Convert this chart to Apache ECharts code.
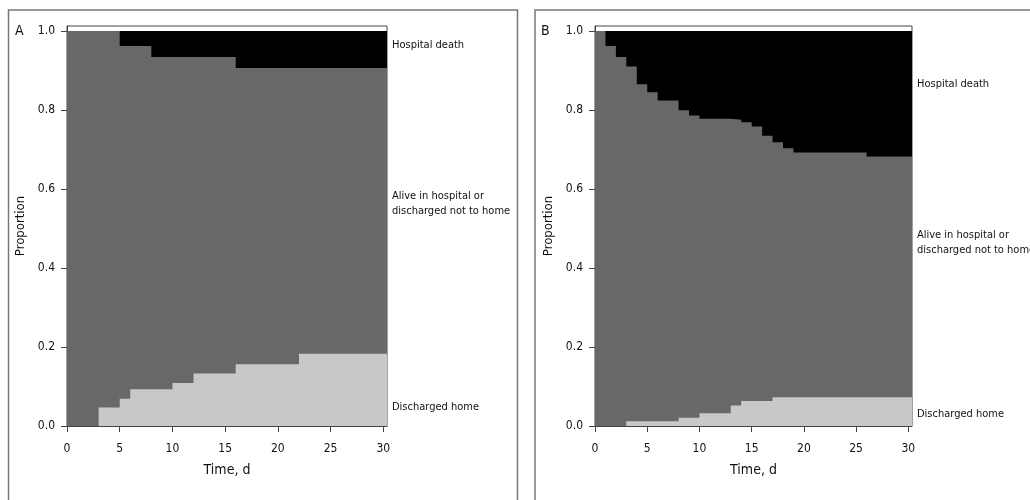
<!DOCTYPE html>
<html>
<head>
<meta charset="utf-8">
<title>Hospital outcome</title>
<script src="https://cdn.jsdelivr.net/npm/echarts@6/dist/echarts.min.js"></script>
<style>
  * { margin: 0; padding: 0 }
  html, body { width: 100%; height: 100%; background: #fff; }
  #main { width: 1030px; height: 500px; }
</style>
</head>
<body>
<div id="main"></div>
<script type="text/javascript">
// ---- data ----
var X_MAX = 30.35;
var Y_MAX = 1.0125;
var xTicks = [0, 5, 10, 15, 20, 25, 30];
var yTicks = [0, 0.2, 0.4, 0.6, 0.8, 1.0];

// Panel A
var daysHomeA = [0, 3, 5, 6, 10, 12, 16, 22];
var homeA = [0, 0.047, 0.069, 0.093, 0.109, 0.133, 0.156, 0.183];
var daysDeathA = [0, 5, 8, 16];
var aliveTopA = [1.0, 0.962, 0.934, 0.906];

// Panel B
var daysHomeB = [0, 3, 8, 10, 13, 14, 17];
var homeB = [0, 0.012, 0.021, 0.032, 0.052, 0.063, 0.073];
var daysDeathB = [0, 1, 2, 3, 4, 5, 6, 8, 9, 10, 13, 14, 15, 16, 17, 18, 19, 26];
var aliveTopB = [1.0, 0.962, 0.934, 0.910, 0.865, 0.845, 0.824, 0.799, 0.786,
                 0.778, 0.775, 0.769, 0.758, 0.735, 0.718, 0.703, 0.692, 0.682];

var labelNames = ['Hospital death', 'Alive in hospital or\ndischarged not to home', 'Discharged home'];
var labelYA = [0.965, 0.563, 0.048];
var labelYB = [0.865, 0.463, 0.030];

var FONT = "'Liberation Sans Narrow', 'DejaVu Sans Condensed', 'Liberation Sans', sans-serif";
var C_DEATH = '#000000', C_ALIVE = '#686868', C_HOME = '#c8c8c8';

function steps(days, vals) {
  var d = days.map(function (x, i) { return [x, vals[i]]; });
  d.push([X_MAX, vals[vals.length - 1]]);
  return d;
}

function area(name, idx, data, color) {
  return {
    name: name, type: 'line', step: 'end',
    xAxisIndex: idx, yAxisIndex: idx,
    data: data, showSymbol: false, silent: true,
    lineStyle: { width: 0, opacity: 0 },
    areaStyle: { color: color, opacity: 1 }
  };
}

function labels(idx, ys) {
  return {
    type: 'scatter', xAxisIndex: idx, yAxisIndex: idx, silent: true,
    symbolSize: 0, clip: false,
    itemStyle: { opacity: 1 },
    data: ys.map(function (y, i) { return { name: labelNames[i], value: [X_MAX, y] }; }),
    label: {
      show: true, position: 'right', distance: 5,
      formatter: '{b}', fontFamily: FONT, fontSize: 11, lineHeight: 15, color: '#111', align: 'left'
    }
  };
}

function xAx(idx) {
  return {
    type: 'value', gridIndex: idx, min: 0, max: X_MAX,
    name: 'Time, d', nameLocation: 'middle', nameGap: 37,
    nameTextStyle: { fontFamily: FONT, fontSize: 14, color: '#111' },
    axisLine: { show: true, lineStyle: { color: '#444', width: 1 } },
    axisTick: { show: true, customValues: xTicks, length: 6, lineStyle: { color: '#444' } },
    axisLabel: { customValues: xTicks, fontFamily: FONT, fontSize: 12, color: '#111', margin: 17 },
    splitLine: { show: false }
  };
}

function yAx(idx) {
  return {
    type: 'value', gridIndex: idx, min: 0, max: Y_MAX,
    name: 'Proportion', nameLocation: 'middle', nameGap: 40,
    nameTextStyle: { fontFamily: FONT, fontSize: 13, color: '#111' },
    axisLine: { show: true, lineStyle: { color: '#444', width: 1 } },
    axisTick: { show: true, customValues: yTicks, length: 6, lineStyle: { color: '#444' } },
    axisLabel: {
      customValues: yTicks, fontFamily: FONT, fontSize: 12, color: '#111', margin: 12,
      formatter: function (v) { return v.toFixed(1); }
    },
    splitLine: { show: false }
  };
}

var chart = echarts.init(document.getElementById('main'));
chart.setOption({
  animation: false,
  backgroundColor: '#fff',
  grid: [
    { left: 67, top: 26, width: 320, height: 400, show: true, borderColor: '#444', borderWidth: 1, backgroundColor: '#fff' },
    { left: 595, top: 26, width: 317, height: 400, show: true, borderColor: '#444', borderWidth: 1, backgroundColor: '#fff' }
  ],
  xAxis: [xAx(0), xAx(1)],
  yAxis: [yAx(0), yAx(1)],
  graphic: [
    { type: 'rect', shape: { x: 8.5, y: 10, width: 509, height: 520 }, style: { fill: 'none', stroke: '#777', lineWidth: 1.5 }, z: -10 },
    { type: 'rect', shape: { x: 535, y: 10, width: 520, height: 520 }, style: { fill: 'none', stroke: '#777', lineWidth: 1.5 }, z: -10 },
    { type: 'text', left: 15, top: 24, style: { text: 'A', font: '14px ' + FONT, fill: '#111' } },
    { type: 'text', left: 541, top: 24, style: { text: 'B', font: '14px ' + FONT, fill: '#111' } }
  ],
  series: [
    area('Hospital death', 0, steps([0], [1]), C_DEATH),
    area('Alive', 0, steps(daysDeathA, aliveTopA), C_ALIVE),
    area('Discharged home', 0, steps(daysHomeA, homeA), C_HOME),
    labels(0, labelYA),
    area('Hospital death', 1, steps([0], [1]), C_DEATH),
    area('Alive', 1, steps(daysDeathB, aliveTopB), C_ALIVE),
    area('Discharged home', 1, steps(daysHomeB, homeB), C_HOME),
    labels(1, labelYB)
  ]
});
</script>
</body>
</html>
